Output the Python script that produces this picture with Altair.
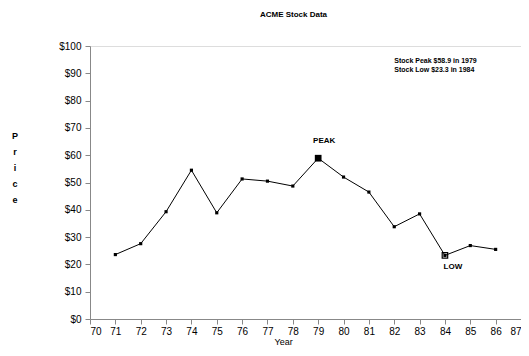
import altair as alt
import pandas as pd

years = [71, 72, 73, 74, 75, 76, 77, 78, 79, 80, 81, 82, 83, 84, 85, 86]
prices = [23.6, 27.6, 39.3, 54.5, 38.9, 51.3, 50.5, 48.7, 58.9, 52.0, 46.5, 33.8, 38.5, 23.3, 26.9, 25.5]
x_ticks = list(range(70, 88))
y_ticks = list(range(0, 101, 10))
title_text = "ACME Stock Data"
note_lines = ["Stock Peak $58.9 in 1979", "Stock Low $23.3 in 1984"]

df = pd.DataFrame({"year": years, "price": prices})
peak_year = years[prices.index(max(prices))]
low_year = years[prices.index(min(prices))]
df["tag"] = ["PEAK" if y == peak_year else ("LOW" if y == low_year else "") for y in years]

FONT = "Liberation Sans"

x_enc = alt.X("year:Q", scale=alt.Scale(domain=[70, 87], nice=False, zero=False),
              axis=alt.Axis(values=x_ticks, title="Year", grid=False, format="d",
                            tickSize=5, labelPadding=2, titlePadding=1, labelOverlap=False,
                            titleX=184, titleAnchor="start", titleFontWeight="normal",
                            titleFontSize=9))
y_enc = alt.Y("price:Q", scale=alt.Scale(domain=[0, 100], nice=False),
              axis=alt.Axis(values=y_ticks, title=None, grid=False, labelOverlap=False,
                            labelExpr="'$' + datum.value", tickSize=5, labelPadding=4))

base = alt.Chart(df)
line = base.mark_line(color="black", strokeWidth=1).encode(x=x_enc, y=y_enc)
pts = base.mark_point(shape="square", filled=True, color="black", size=10, opacity=1).encode(
    x=x_enc, y=y_enc)
peak = base.transform_filter(alt.datum.tag == "PEAK").mark_point(
    shape="square", filled=True, color="black", size=45, opacity=1).encode(x=x_enc, y=y_enc)
low = base.transform_filter(alt.datum.tag == "LOW").mark_point(
    shape="square", filled=False, color="black", size=30, strokeWidth=1.2, opacity=1).encode(
    x=x_enc, y=y_enc)
peak_lbl = base.transform_filter(alt.datum.tag == "PEAK").mark_text(
    font=FONT, fontSize=8, fontWeight="bold", dy=-17, dx=6).encode(x=x_enc, y=y_enc, text="tag:N")
low_lbl = base.transform_filter(alt.datum.tag == "LOW").mark_text(
    font=FONT, fontSize=8, fontWeight="bold", dy=12, dx=8).encode(x=x_enc, y=y_enc, text="tag:N")

note_df = pd.DataFrame({"year": [82.0, 82.0], "price": [94.5, 91.3], "t": note_lines})
note = alt.Chart(note_df).mark_text(font=FONT, fontSize=7, fontWeight="bold", align="left").encode(
    x=x_enc, y=y_enc, text="t:N")

ylab = alt.Chart(pd.DataFrame({"t": ["P\nr\ni\nc\ne"]})).mark_text(
    font=FONT, fontSize=9, fontWeight="bold", lineBreak="\n", lineHeight=16, baseline="top").encode(
    x=alt.value(-75), y=alt.value(86), text="t:N")

chart = alt.layer(line, pts, peak, low, peak_lbl, low_lbl, note, ylab).properties(
    width=431, height=273,
    title=alt.TitleParams(title_text, font=FONT, fontSize=8, fontWeight="bold",
                          anchor="middle", offset=22, dx=-12),
    autosize="none",
    padding={"left": 82, "top": 38, "right": 0, "bottom": 29},
).configure_view(stroke="black", strokeWidth=1.2).configure_axis(
    domainColor="black", tickColor="black", labelColor="black", titleColor="black",
    labelFont=FONT, titleFont=FONT, labelFontSize=7, titleFontSize=8,
    labelFontWeight="bold", titleFontWeight="normal", domainWidth=1.2, tickWidth=1.2,
    labelOverlap=False
).configure(background="white")

chart.save("out.html", embed_options={"renderer": "svg", "actions": False})
